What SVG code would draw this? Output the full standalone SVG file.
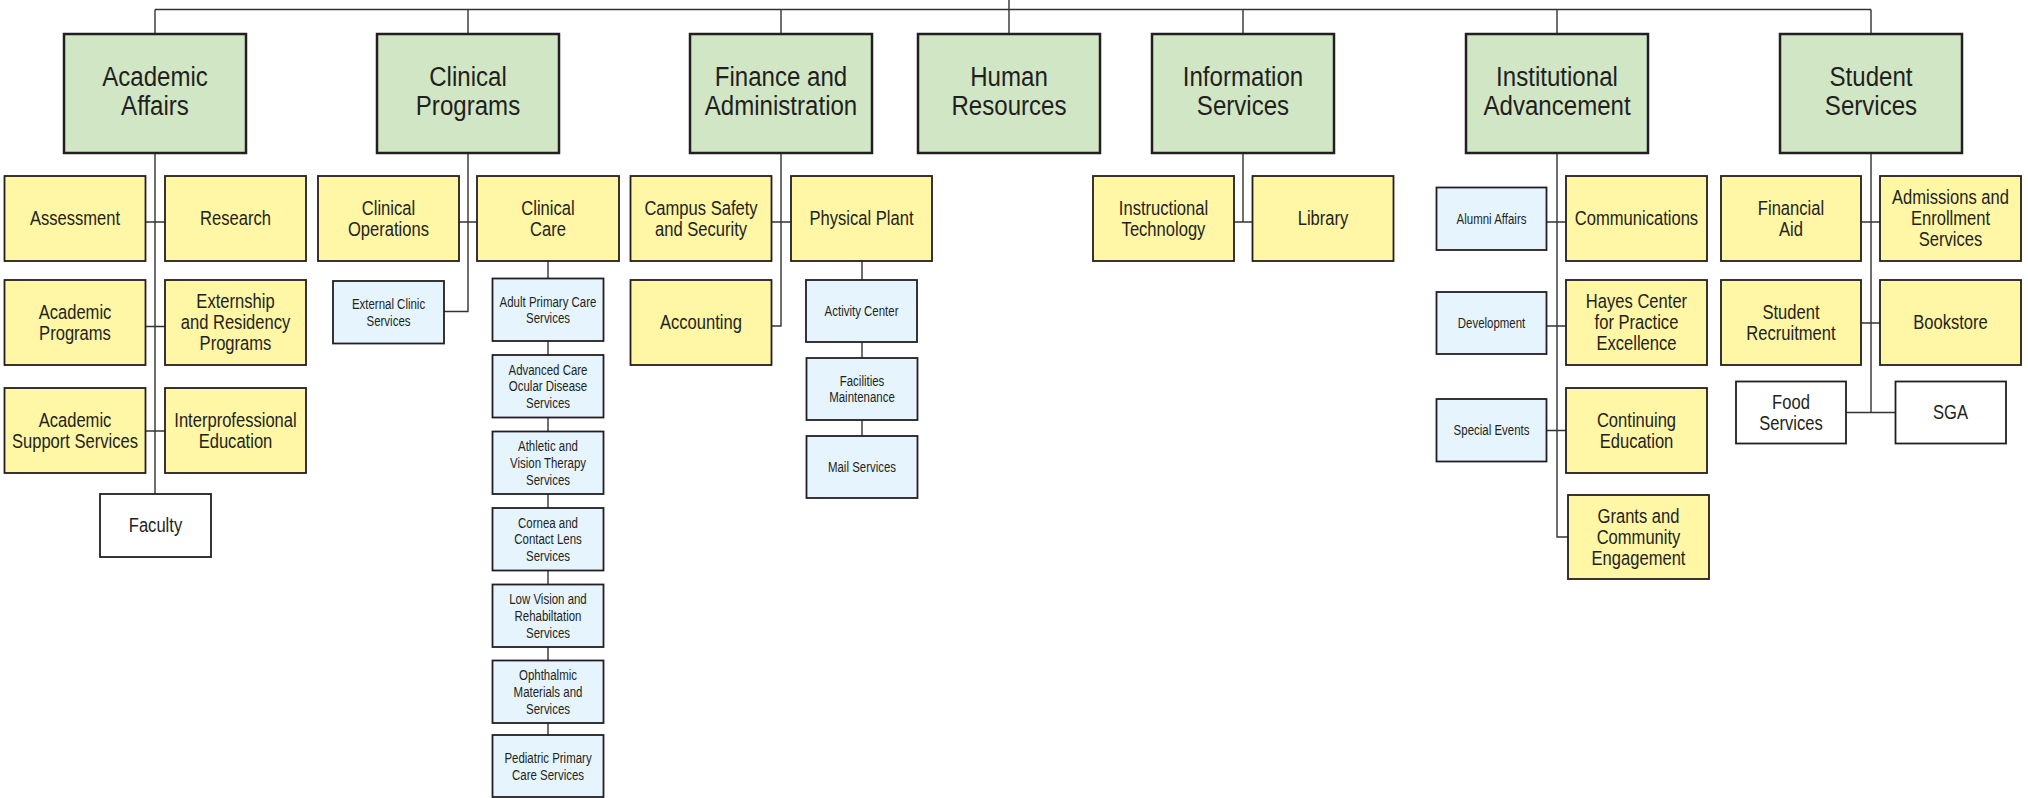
<svg xmlns="http://www.w3.org/2000/svg" width="2028" height="798" viewBox="0 0 2028 798">
<style>
rect{stroke:#231f20}
.g{fill:#d1e6c5;stroke-width:2.5}
.y{fill:#fff6a6;stroke-width:1.8}
.b{fill:#e6f5fd;stroke-width:1.8}
.w{fill:#ffffff;stroke-width:1.8}
text{font-family:"Liberation Sans",Arial,sans-serif;fill:#231f20;text-anchor:middle;transform-box:fill-box;transform-origin:50% 50%}
.tl{font-size:28px;transform:scaleX(.86)}
.tm{font-size:19.5px;transform:scaleX(.85)}
.ts{font-size:15.5px;transform:scaleX(.74)}
.conn{fill:none;stroke:#333333;stroke-width:1.4}
</style>
<g id="connectors" class="conn">
<path d="M155 9.5H1871M1009 0V34M155 9.5V34M468 9.5V34M781 9.5V34M1243 9.5V34M1557 9.5V34M1871 9.5V34"/>
<path d="M155 153V494M146 222H165M146 326.5H165M146 431H165"/>
<path d="M468 153V311.5H444M459 222H477"/>
<path d="M548 261V278.5M548 341V355M548 417.5V431.5M548 494V508M548 570.5V584.5M548 647V660.5M548 723V735"/>
<path d="M781 153V326H771.5M771.5 222H791"/>
<path d="M862 261V280M862 342V358M862 420V436"/>
<path d="M1243 153V222M1234 222H1252.5"/>
<path d="M1557 153V537H1568M1546.5 222H1566M1546.5 326H1566M1546.5 430.5H1566"/>
<path d="M1871 153V412.5M1861 222H1880M1861 323H1880M1846 412.5H1895.5"/>
</g>
<g id="academic-affairs"><rect class="g" x="64" y="34" width="182" height="119"/><text class="tl" x="155" y="86">Academic</text><text class="tl" x="155" y="115">Affairs</text></g>
<g id="clinical-programs"><rect class="g" x="377" y="34" width="182" height="119"/><text class="tl" x="468" y="86">Clinical</text><text class="tl" x="468" y="115">Programs</text></g>
<g id="finance"><rect class="g" x="690" y="34" width="182" height="119"/><text class="tl" x="781" y="86">Finance and</text><text class="tl" x="781" y="115">Administration</text></g>
<g id="human-resources"><rect class="g" x="918" y="34" width="182" height="119"/><text class="tl" x="1009" y="86">Human</text><text class="tl" x="1009" y="115">Resources</text></g>
<g id="information-services"><rect class="g" x="1152" y="34" width="182" height="119"/><text class="tl" x="1243" y="86">Information</text><text class="tl" x="1243" y="115">Services</text></g>
<g id="institutional-advancement"><rect class="g" x="1466" y="34" width="182" height="119"/><text class="tl" x="1557" y="86">Institutional</text><text class="tl" x="1557" y="115">Advancement</text></g>
<g id="student-services"><rect class="g" x="1780" y="34" width="182" height="119"/><text class="tl" x="1871" y="86">Student</text><text class="tl" x="1871" y="115">Services</text></g>

<g id="assessment"><rect class="y" x="4.5" y="176" width="141" height="85"/><text class="tm" x="75" y="225.5">Assessment</text></g>
<g id="research"><rect class="y" x="165" y="176" width="141" height="85"/><text class="tm" x="235.5" y="225.5">Research</text></g>
<g id="academic-programs"><rect class="y" x="4.5" y="280" width="141" height="85"/><text class="tm" x="75" y="319">Academic</text><text class="tm" x="75" y="340">Programs</text></g>
<g id="externship"><rect class="y" x="165" y="280" width="141" height="85"/><text class="tm" x="235.5" y="308.5">Externship</text><text class="tm" x="235.5" y="329.5">and Residency</text><text class="tm" x="235.5" y="350.5">Programs</text></g>
<g id="academic-support"><rect class="y" x="4.5" y="388" width="141" height="85"/><text class="tm" x="75" y="427">Academic</text><text class="tm" x="75" y="448">Support Services</text></g>
<g id="interprofessional"><rect class="y" x="165" y="388" width="141" height="85"/><text class="tm" x="235.5" y="427">Interprofessional</text><text class="tm" x="235.5" y="448">Education</text></g>
<g id="faculty"><rect class="w" x="100" y="494" width="111" height="63"/><text class="tm" x="155.5" y="532.5">Faculty</text></g>

<g id="clinical-operations"><rect class="y" x="318" y="176" width="141" height="85"/><text class="tm" x="388.5" y="215">Clinical</text><text class="tm" x="388.5" y="236">Operations</text></g>
<g id="clinical-care"><rect class="y" x="477" y="176" width="142" height="85"/><text class="tm" x="548" y="215">Clinical</text><text class="tm" x="548" y="236">Care</text></g>
<g id="external-clinic"><rect class="b" x="333" y="281" width="111" height="62.5"/><text class="ts" x="388.5" y="309">External Clinic</text><text class="ts" x="388.5" y="325.7">Services</text></g>
<g id="adult-primary"><rect class="b" x="492.5" y="278.5" width="111" height="62.5"/><text class="ts" x="548" y="306.6">Adult Primary Care</text><text class="ts" x="548" y="323.3">Services</text></g>
<g id="advanced-care"><rect class="b" x="492.5" y="355" width="111" height="62.5"/><text class="ts" x="548" y="374.8">Advanced Care</text><text class="ts" x="548" y="391.5">Ocular Disease</text><text class="ts" x="548" y="408.2">Services</text></g>
<g id="athletic"><rect class="b" x="492.5" y="431.5" width="111" height="62.5"/><text class="ts" x="548" y="451.3">Athletic and</text><text class="ts" x="548" y="468">Vision Therapy</text><text class="ts" x="548" y="484.7">Services</text></g>
<g id="cornea"><rect class="b" x="492.5" y="508" width="111" height="62.5"/><text class="ts" x="548" y="527.8">Cornea and</text><text class="ts" x="548" y="544.5">Contact Lens</text><text class="ts" x="548" y="561.2">Services</text></g>
<g id="low-vision"><rect class="b" x="492.5" y="584.5" width="111" height="62.5"/><text class="ts" x="548" y="604.3">Low Vision and</text><text class="ts" x="548" y="621">Rehabiltation</text><text class="ts" x="548" y="637.7">Services</text></g>
<g id="ophthalmic"><rect class="b" x="492.5" y="660.5" width="111" height="62.5"/><text class="ts" x="548" y="680.3">Ophthalmic</text><text class="ts" x="548" y="697">Materials and</text><text class="ts" x="548" y="713.7">Services</text></g>
<g id="pediatric"><rect class="b" x="492.5" y="735" width="111" height="62"/><text class="ts" x="548" y="763">Pediatric Primary</text><text class="ts" x="548" y="779.7">Care Services</text></g>

<g id="campus-safety"><rect class="y" x="630.5" y="176" width="141" height="85"/><text class="tm" x="701" y="215">Campus Safety</text><text class="tm" x="701" y="236">and Security</text></g>
<g id="physical-plant"><rect class="y" x="791" y="176" width="141" height="85"/><text class="tm" x="861.5" y="225.5">Physical Plant</text></g>
<g id="accounting"><rect class="y" x="630.5" y="280" width="141" height="85"/><text class="tm" x="701" y="329.5">Accounting</text></g>
<g id="activity-center"><rect class="b" x="806" y="280" width="111" height="62"/><text class="ts" x="861.5" y="316">Activity Center</text></g>
<g id="facilities"><rect class="b" x="806.5" y="358" width="111" height="62"/><text class="ts" x="862" y="385.8">Facilities</text><text class="ts" x="862" y="402.5">Maintenance</text></g>
<g id="mail-services"><rect class="b" x="806.5" y="436" width="111" height="62"/><text class="ts" x="862" y="472">Mail Services</text></g>

<g id="instructional-technology"><rect class="y" x="1093" y="176" width="141" height="85"/><text class="tm" x="1163.5" y="215">Instructional</text><text class="tm" x="1163.5" y="236">Technology</text></g>
<g id="library"><rect class="y" x="1252.5" y="176" width="141" height="85"/><text class="tm" x="1323" y="225.5">Library</text></g>

<g id="alumni-affairs"><rect class="b" x="1436.5" y="187.5" width="110" height="62.5"/><text class="ts" x="1491.5" y="224">Alumni Affairs</text></g>
<g id="communications"><rect class="y" x="1566" y="176" width="141" height="85"/><text class="tm" x="1636.5" y="225.5">Communications</text></g>
<g id="development"><rect class="b" x="1436.5" y="292" width="110" height="62"/><text class="ts" x="1491.5" y="328">Development</text></g>
<g id="hayes-center"><rect class="y" x="1566" y="280" width="141" height="85"/><text class="tm" x="1636.5" y="308.5">Hayes Center</text><text class="tm" x="1636.5" y="329.5">for Practice</text><text class="tm" x="1636.5" y="350.5">Excellence</text></g>
<g id="special-events"><rect class="b" x="1436.5" y="399" width="110" height="62.5"/><text class="ts" x="1491.5" y="435.5">Special Events</text></g>
<g id="continuing-education"><rect class="y" x="1566" y="388" width="141" height="85"/><text class="tm" x="1636.5" y="427">Continuing</text><text class="tm" x="1636.5" y="448">Education</text></g>
<g id="grants"><rect class="y" x="1568" y="495" width="141" height="84"/><text class="tm" x="1638.5" y="523">Grants and</text><text class="tm" x="1638.5" y="544">Community</text><text class="tm" x="1638.5" y="565">Engagement</text></g>

<g id="financial-aid"><rect class="y" x="1721" y="176" width="140" height="85"/><text class="tm" x="1791" y="215">Financial</text><text class="tm" x="1791" y="236">Aid</text></g>
<g id="admissions"><rect class="y" x="1880" y="176" width="141" height="85"/><text class="tm" x="1950.5" y="204.5">Admissions and</text><text class="tm" x="1950.5" y="225.5">Enrollment</text><text class="tm" x="1950.5" y="246.5">Services</text></g>
<g id="student-recruitment"><rect class="y" x="1721" y="280" width="140" height="85"/><text class="tm" x="1791" y="319">Student</text><text class="tm" x="1791" y="340">Recruitment</text></g>
<g id="bookstore"><rect class="y" x="1880" y="280" width="141" height="85"/><text class="tm" x="1950.5" y="329.5">Bookstore</text></g>
<g id="food-services"><rect class="w" x="1736" y="381.5" width="110" height="62"/><text class="tm" x="1791" y="409">Food</text><text class="tm" x="1791" y="430">Services</text></g>
<g id="sga"><rect class="w" x="1895.5" y="381.5" width="110.5" height="62"/><text class="tm" x="1950.5" y="419.5">SGA</text></g>
</svg>
